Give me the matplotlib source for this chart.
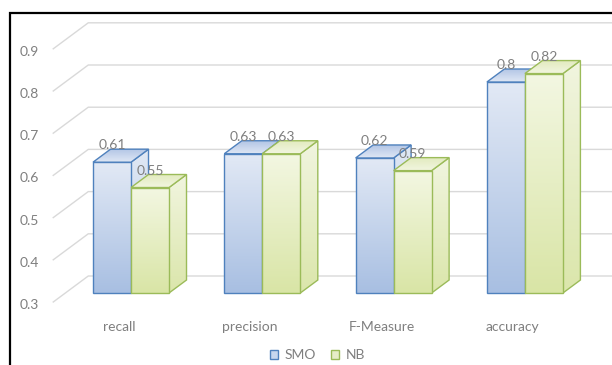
import numpy as np
import matplotlib
matplotlib.use('Agg')
import matplotlib.pyplot as plt
from matplotlib.patches import Polygon, Patch
from matplotlib.colors import to_rgb
from matplotlib.lines import Line2D
import matplotlib.transforms as mtransforms

# ---------------- data ----------------
categories = ['recall', 'precision', 'F-Measure', 'accuracy']
series_names = ['SMO', 'NB']
smo_values = [0.61, 0.63, 0.62, 0.80]
nb_values = [0.55, 0.63, 0.59, 0.82]
y_ticks = [0.3, 0.4, 0.5, 0.6, 0.7, 0.8, 0.9]

# ---------------- style / geometry ----------------
plt.rcParams['font.family'] = ['Lato', 'DejaVu Sans']
TXT = '#7f7f7f'
GRID = '#d9d9d9'
DX, DY = 0.2666, 0.0616      # oblique depth offset (full depth)
BAR_W = 0.2894
F_DEPTH, BAR_DEPTH = 0.346, 0.5
BASE = 0.3

STYLES = {
    'SMO': dict(edge='#4f81bd',
                front=('#e2e9f5', '#a8bfe2'),
                side=('#e0e8f4', '#b9cbe8'),
                top=('#b3c6e6', '#dfe7f4')),   # (back, front)
    'NB': dict(edge='#9bbb59',
               front=('#f3f7e2', '#d9e5a6'),
               side=('#f1f5df', '#dbe6ab'),
               top=('#e3ebc0', '#f2f6e1')),
}


def proj(W, v, d):
    return (W + d * DX, v + d * DY)


fig = plt.figure(figsize=(6.12, 3.65), dpi=100)
ax = fig.add_axes([0, 0, 1, 1])
ax.set_axis_off()


def grad_face(verts, c_top, c_bot, edge, z):
    poly = Polygon(verts, closed=True, fc='none', ec=edge, lw=1.0,
                   zorder=z + 0.1, joinstyle='miter')
    ax.add_patch(poly)
    xs = [p[0] for p in verts]
    ys = [p[1] for p in verts]
    t = np.linspace(0, 1, 64)[:, None]
    ct, cb = np.array(to_rgb(c_top)), np.array(to_rgb(c_bot))
    img = (ct * (1 - t) + cb * t)[:, None, :]
    im = ax.imshow(img, extent=(min(xs), max(xs), min(ys), max(ys)),
                   origin='upper', aspect='auto', interpolation='bilinear',
                   zorder=z)
    im.set_clip_path(poly)


# walls / gridlines
for v in y_ticks:
    x0, y0 = proj(-0.5, v, 0)
    x1, y1 = proj(-0.5, v, 1)
    x2, y2 = proj(3.5, v, 1)
    ax.plot([x0, x1, x2], [y0, y1, y2], color=GRID, lw=1.0, zorder=1,
            solid_joinstyle='miter')
    ax.text(x0, y0, f'{v:.1f}', ha='right', va='center', color=TXT,
            fontsize=10,
            transform=mtransforms.offset_copy(ax.transData, fig=fig,
                                              x=-14, y=-3, units='dots'))

# bars
z = 3
for i, cat in enumerate(categories):
    for name, vals, x0, x1 in [('SMO', smo_values, i - BAR_W, i),
                               ('NB', nb_values, i, i + BAR_W)]:
        v = vals[i]
        st = STYLES[name]
        f, b = F_DEPTH, F_DEPTH + BAR_DEPTH
        side = [proj(x1, BASE, f), proj(x1, BASE, b), proj(x1, v, b), proj(x1, v, f)]
        front = [proj(x0, BASE, f), proj(x1, BASE, f), proj(x1, v, f), proj(x0, v, f)]
        top = [proj(x0, v, f), proj(x1, v, f), proj(x1, v, b), proj(x0, v, b)]
        grad_face(side, st['side'][0], st['side'][1], st['edge'], z)
        grad_face(front, st['front'][0], st['front'][1], st['edge'], z + 1)
        grad_face(top, st['top'][0], st['top'][1], st['edge'], z + 2)
        z += 3
        lx, _ = proj((x0 + x1) / 2, v, f)
        _, ly = proj((x0 + x1) / 2, v, b)
        ax.text(lx, ly, f'{v:g}', ha='center', va='bottom', color=TXT,
                fontsize=10, zorder=100,
                transform=mtransforms.offset_copy(ax.transData, fig=fig,
                                                  x=0, y=-2, units='dots'))
    cx, cy = proj(i, BASE, 0)
    ax.text(cx, cy, cat, ha='center', va='center', color=TXT, fontsize=10,
            transform=mtransforms.offset_copy(ax.transData, fig=fig,
                                              x=0, y=-25, units='dots'))

ax.set_xlim((0 - 118.9) / 131.3, (612 - 118.9) / 131.3)
ax.set_ylim(0.3 - 63 / 422, 0.3 + (365 - 63) / 422)

# legend
handles = [Patch(facecolor='#c6d6ee', edgecolor=STYLES['SMO']['edge'], lw=1.0),
           Patch(facecolor='#e6edc8', edgecolor=STYLES['NB']['edge'], lw=1.0)]
leg = fig.legend(handles, series_names, loc='center',
                 bbox_to_anchor=(317.5 / 612, 10 / 365), ncol=2, frameon=False,
                 fontsize=10, handlelength=0.6, handleheight=0.6,
                 handletextpad=0.45, columnspacing=1.1, labelcolor=TXT)

# chart border (top and left visible)
fig.add_artist(Line2D([10 / 612, 10 / 612, 1.0], [0, 1 - 13 / 365, 1 - 13 / 365],
                      transform=fig.transFigure, color='black', lw=1.6,
                      solid_joinstyle='miter'))

fig.savefig('out.png', dpi=100)
